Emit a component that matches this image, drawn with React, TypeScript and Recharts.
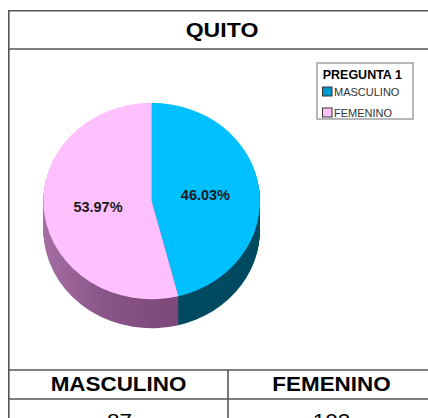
import React from 'react';
import { PieChart, Pie, Cell } from 'recharts';

const title = 'QUITO';
const legendTitle = 'PREGUNTA 1';
const categories = ['MASCULINO', 'FEMENINO'];
const counts = [87, 102];
const topColors = ['#00C0FF', '#FFC0FF'];
const legendColors = ['#0099CC', '#FFC0FF'];
const sideColors = ['#004B61', 'url(#pinkSide)'];

const data = categories.map((name, i) => ({ name, value: counts[i] }));
const total = counts.reduce((a, b) => a + b, 0);

const SY = 0.907; // vertical squash for ellipse
const CX = 143.7;
const CY = 212.8;
const R = 108.3;
const DEPTH = 32;
const layers = Array.from({ length: DEPTH }, (_, i) => DEPTH - i);
const RADIAN = Math.PI / 180;
const FONT = '"Liberation Sans", Arial, sans-serif';

const renderLabel = (props: any) => {
  const { cx, cy, midAngle, outerRadius, value } = props;
  const r = outerRadius * 0.5;
  const x = cx + r * Math.cos(-midAngle * RADIAN);
  const y = cy + r * Math.sin(-midAngle * RADIAN);
  const pct = ((value / total) * 100).toFixed(2) + '%';
  return (
    <text
      transform={`translate(${x},${y}) scale(1,${1 / SY})`}
      textAnchor="middle"
      dominantBaseline="central"
      fontFamily={FONT}
      fontWeight="bold"
      fontSize={14.5}
      fill="#1a1a1a"
    >
      {pct}
    </text>
  );
};

export default function App() {
  return (
    <div style={{ position: 'fixed', left: 8, top: 8, width: 420, height: 410, overflow: 'hidden', background: '#fff' }}>
      <div style={{ position: 'absolute', left: 0, top: 0, transform: `scaleY(${SY})`, transformOrigin: 'top left' }}>
        <PieChart width={300} height={420} margin={{ top: 0, left: 0, right: 0, bottom: 0 }}>
          <defs>
            <linearGradient id="pinkSide" gradientUnits="userSpaceOnUse" x1={35} y1={0} x2={170} y2={0}>
              <stop offset="0" stopColor="#A56FA3" />
              <stop offset="0.45" stopColor="#8A5588" />
              <stop offset="1" stopColor="#7B4879" />
            </linearGradient>
          </defs>
          {layers.map((d) => (
            <Pie
              key={'side' + d}
              data={data}
              dataKey="value"
              nameKey="name"
              cx={CX}
              cy={CY + d}
              outerRadius={R}
              startAngle={90}
              endAngle={-270}
              stroke="none"
              isAnimationActive={false}
            >
              {data.map((_, i) => (
                <Cell key={i} fill={sideColors[i]} />
              ))}
            </Pie>
          ))}
          <Pie
            data={data}
            dataKey="value"
            nameKey="name"
            cx={CX}
            cy={CY}
            outerRadius={R}
            startAngle={90}
            endAngle={-270}
            stroke="none"
            label={renderLabel}
            labelLine={false}
            isAnimationActive={false}
          >
            {data.map((_, i) => (
              <Cell key={i} fill={topColors[i]} />
            ))}
          </Pie>
        </PieChart>
      </div>
      <svg width={420} height={410} style={{ position: 'absolute', left: 0, top: 0, overflow: 'visible' }} fontFamily={FONT}>
        <g stroke="#555" strokeWidth={1.6}>
          <line x1={0.8} y1={2} x2={0.8} y2={410} />
          <line x1={0} y1={2.8} x2={420} y2={2.8} />
          <line x1={0} y1={41} x2={420} y2={41} />
          <line x1={0} y1={362} x2={420} y2={362} />
          <line x1={0} y1={391} x2={420} y2={391} />
          <line x1={220} y1={362} x2={220} y2={410} />
        </g>
        <text transform="translate(214,29) scale(1.1,1)" textAnchor="middle" fontWeight="bold" fontSize={21} fill="#000">
          {title}
        </text>
        <text transform="translate(110.5,383) scale(1.15,1)" textAnchor="middle" fontWeight="bold" fontSize={19.5} fill="#000">
          {categories[0]}
        </text>
        <text transform="translate(323.5,383) scale(1.15,1)" textAnchor="middle" fontWeight="bold" fontSize={19.5} fill="#000">
          {categories[1]}
        </text>
        <text transform="translate(111.5,419.5) scale(1.15,1)" textAnchor="middle" fontSize={19.5} fill="#000">
          {counts[0]}
        </text>
        <text transform="translate(323.5,419.5) scale(1.15,1)" textAnchor="middle" fontSize={19.5} fill="#000">
          {counts[1]}
        </text>
        <rect x={309} y={55} width={96} height={56} fill="#fff" stroke="#A0A0A0" strokeWidth={1.5} />
        <text x={314.7} y={71.3} fontWeight="bold" fontSize={12.5} fill="#000">
          {legendTitle}
        </text>
        {categories.map((c, i) => (
          <g key={c}>
            <rect x={314.5} y={79 + i * 21} width={9.5} height={9} fill={legendColors[i]} stroke="#333" strokeWidth={1} />
            <text x={326} y={87.5 + i * 21} fontSize={11} fill="#333">
              {c}
            </text>
          </g>
        ))}
      </svg>
    </div>
  );
}
